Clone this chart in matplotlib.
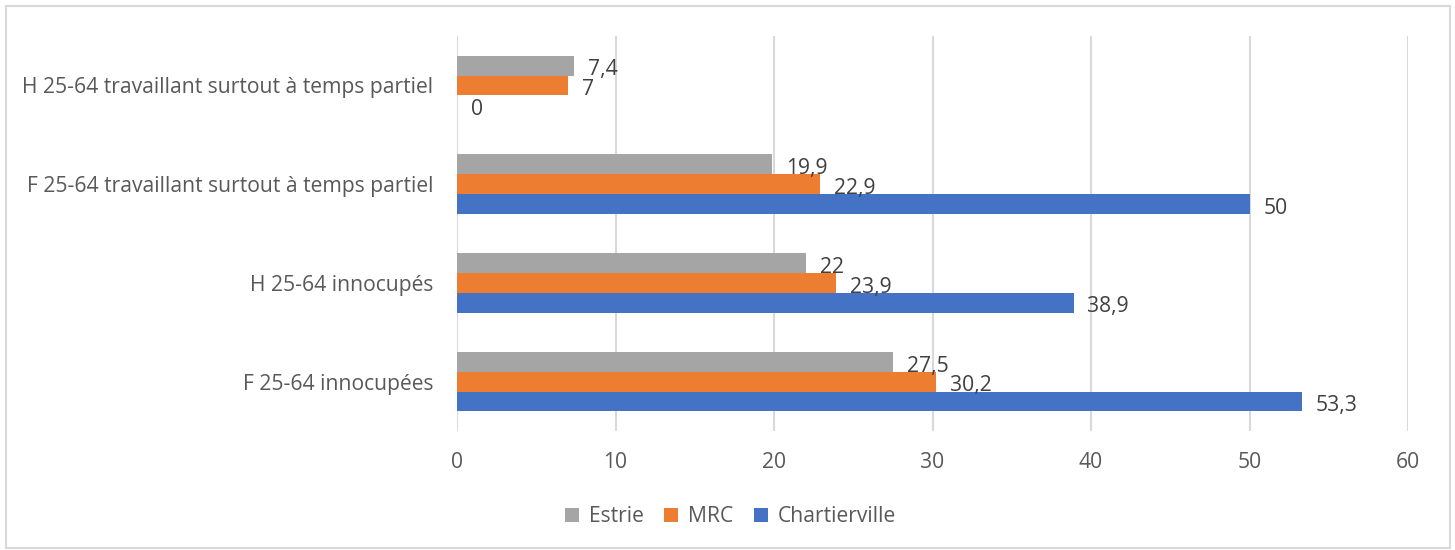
import numpy as np
import matplotlib.pyplot as plt
from matplotlib.patches import Rectangle

# donnees (de bas en haut)
categories = ['F 25-64 innocupées', 'H 25-64 innocupés',
              'F 25-64 travaillant surtout à temps partiel',
              'H 25-64 travaillant surtout à temps partiel']
estrie = [27.5, 22, 19.9, 7.4]
mrc = [30.2, 23.9, 22.9, 7]
chartierville = [53.3, 38.9, 50, 0]
x_ticks = [0, 10, 20, 30, 40, 50, 60]

plt.rcParams['font.family'] = ['Open Sans', 'DejaVu Sans']
txt = '#595959'
fs = 15.2

fig = plt.figure(figsize=(14.55, 5.5), dpi=100)
ax = fig.add_axes([457 / 1455, 1 - 431 / 550, (1408 - 457) / 1455, (431 - 36) / 550])

y = np.arange(len(categories))
h = 0.2
series = [('Chartierville', chartierville, '#4472C4', -h),
          ('MRC', mrc, '#ED7D31', 0),
          ('Estrie', estrie, '#A5A5A5', h)]
bars = {}
for name, vals, col, off in series:
    b = ax.barh(y + off, vals, height=h, color=col, label=name, zorder=3)
    bars[name] = b
    for v, yy in zip(vals, y + off):
        lab = ('%g' % v).replace('.', ',')
        ax.annotate(lab, (v, yy), xytext=(10, -3), textcoords='offset points',
                    va='center', ha='left', fontsize=fs, color='#404040')

ax.set_xlim(0, 60)
ax.set_ylim(-0.5, 3.5)
ax.set_xticks(x_ticks)
ax.set_yticks(y)
ax.set_yticklabels(categories)
ax.tick_params(axis='both', length=0, labelsize=fs, labelcolor=txt)
ax.tick_params(axis='x', pad=15)
ax.tick_params(axis='y', pad=17)
ax.grid(axis='x', color='#d9d9d9', linewidth=1.5, zorder=0)
for s in ax.spines.values():
    s.set_visible(False)

handles = [bars['Estrie'], bars['MRC'], bars['Chartierville']]
fig.legend(handles, ['Estrie', 'MRC', 'Chartierville'], loc='center',
           bbox_to_anchor=(0.502, 1 - 517 / 550), ncol=3, frameon=False,
           fontsize=fs, labelcolor=txt, handlelength=0.65, handleheight=0.65,
           handletextpad=0.45, columnspacing=1.0)

fig.patches.append(Rectangle((6 / 1455, 2 / 550), 1444 / 1455, 542 / 550,
                             transform=fig.transFigure, fill=False,
                             edgecolor='#d9d9d9', linewidth=1.5))

fig.savefig('out.png', dpi=100)
